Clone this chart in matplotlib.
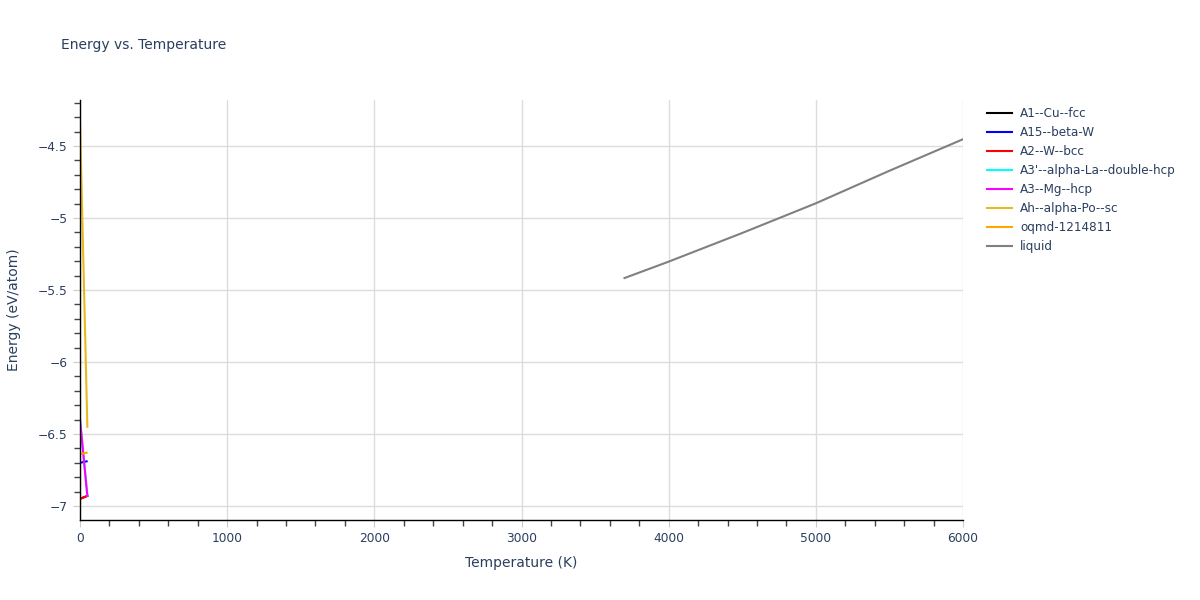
import matplotlib
matplotlib.use("Agg")
import matplotlib.pyplot as plt
from matplotlib.ticker import MultipleLocator, FuncFormatter

plt.rcParams['font.family'] = ['DejaVu Sans']

# phases: (label, color, temperatures, energies)
labels = ["A1--Cu--fcc", "A15--beta-W", "A2--W--bcc", "A3'--alpha-La--double-hcp",
          "A3--Mg--hcp", "Ah--alpha-Po--sc", "oqmd-1214811", "liquid"]
colors = ["black", "blue", "red", "cyan", "magenta", "#e8b820", "orange", "gray"]

temps_a1 = [0, 50]
energy_a1 = [-6.95, -6.93]
temps_a15 = [0, 45]
energy_a15 = [-6.70, -6.69]
temps_a2 = [0, 50]
energy_a2 = [-6.95, -6.93]
temps_a3p = [0, 50]
energy_a3p = [-6.40, -6.93]
temps_a3 = [0, 50]
energy_a3 = [-6.40, -6.93]
temps_ah = [0, 50]
energy_ah = [-4.33, -6.45]
temps_oqmd = [0, 45]
energy_oqmd = [-6.64, -6.63]
temps_liquid = [3700, 4000, 4500, 5000, 5500, 6000]
energy_liquid = [-5.417, -5.303, -5.104, -4.898, -4.672, -4.453]

series = [(temps_a1, energy_a1), (temps_a15, energy_a15), (temps_a2, energy_a2),
          (temps_a3p, energy_a3p), (temps_a3, energy_a3), (temps_ah, energy_ah),
          (temps_oqmd, energy_oqmd), (temps_liquid, energy_liquid)]

text_color = '#2a3f5f'

fig = plt.figure(figsize=(12, 6), dpi=100)
ax = fig.add_axes([80 / 1200, 1 - 520 / 600, 883 / 1200, 420 / 600])

for (t, e), lab, c in zip(series, labels, colors):
    ax.plot(t, e, color=c, lw=1.5, label=lab)

ax.set_xlim(0, 6000)
ax.set_ylim(-7.0972, -4.1806)

ax.xaxis.set_major_locator(MultipleLocator(1000))
ax.xaxis.set_minor_locator(MultipleLocator(200))
ax.yaxis.set_major_locator(MultipleLocator(0.5))
ax.yaxis.set_minor_locator(MultipleLocator(0.1))
ax.yaxis.set_major_formatter(FuncFormatter(lambda v, p: ('%g' % v).replace('-', '\u2212')))

ax.grid(True, which='major', color='#dcdcdc', lw=1)
ax.set_axisbelow(True)
for s in ['top', 'right']:
    ax.spines[s].set_visible(False)
for s in ['left', 'bottom']:
    ax.spines[s].set_color('black')
    ax.spines[s].set_linewidth(1)

ax.tick_params(which='major', length=5, color='#cccccc', labelsize=8.8,
               labelcolor=text_color, pad=4)
ax.tick_params(which='minor', length=4, color='#444444', width=1)

ax.set_xlabel("Temperature (K)", fontsize=10, color=text_color)
ax.set_ylabel("Energy (eV/atom)", fontsize=10, color=text_color)
ax.xaxis.set_label_coords(0.5, -(563 - 520) / 420)
ax.yaxis.set_label_coords(-(80 - 14) / 883, 0.5)
ax.xaxis.label.set_va('center')
ax.yaxis.label.set_va('center')

fig.text(61 / 1200, 1 - 45 / 600, "Energy vs. Temperature", fontsize=10,
         color=text_color, va='center', ha='left')

fig.legend(loc='upper left', bbox_to_anchor=(987 / 1200, 1 - 107 / 600), frameon=False,
           fontsize=8.64, labelcolor=text_color, handlelength=2.1, handletextpad=0.65,
           labelspacing=0.5, borderpad=0, borderaxespad=0)

fig.savefig("out.png", dpi=100)
